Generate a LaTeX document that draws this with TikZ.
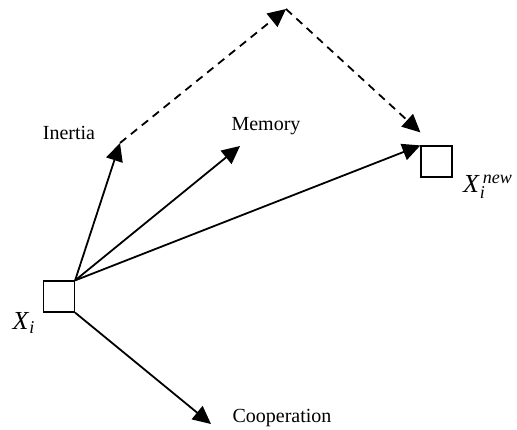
\documentclass[tikz,border=0pt]{standalone}
\usepackage{fontspec}
\setmainfont{Liberation Serif}
\usetikzlibrary{arrows.meta}

\newcommand{\idx}[1]{\mbox{\fontsize{9}{10}\selectfont\textit{#1}}}

\begin{document}
\begin{tikzpicture}[x=0.5pt, y=-0.5pt, every node/.style={font=\normalsize}, >={Triangle[length=9pt,width=8.5pt]},
  particle/.style={draw, line width=0.6pt, minimum size=15.5pt, inner sep=0pt},
  poslab/.style={font=\fontsize{13}{15}\selectfont, inner sep=1pt},
  move/.style={->, line width=0.9pt},
  guide/.style={->, line width=0.9pt, dash pattern=on 4pt off 3pt}]
\useasboundingbox (0,0) rectangle (517,429);

% ---------- the old and the new position ----------
\node[particle] (xi) at (59,296.5) {};
\node[particle] (xnew) at (436.5,161.5) {};
\node[poslab] (xilab) at (24,323) {\textit{X}$_{\idx{i}}$};
\node[poslab] (xnewlab) at (488,187) {\textit{X}$_{\idx{i}}^{\,\idx{new}}$};

% ---------- the three components of the move ----------
\coordinate (inertia) at (120,143);
\coordinate (memory) at (240,146);
\coordinate (coop) at (211,424);
\coordinate (top) at (286,9);
\node (inertialab) at (69,133) {Inertia};
\node (memorylab) at (266,126) {Memory};
\node (cooplab) at (282,418) {Cooperation};
\draw[move] (xi.north east) -- (inertia);
\draw[move] (xi.north east) -- (memory);
\draw[move] (xi.south east) -- (coop);
\draw[move] (xi.north east) -- (xnew.north west);

% vector sum, dashed
\draw[guide] (inertia) -- (top);
\draw[guide] (top) -- ([yshift=6.5pt]xnew.north west);

\end{tikzpicture}
\end{document}
